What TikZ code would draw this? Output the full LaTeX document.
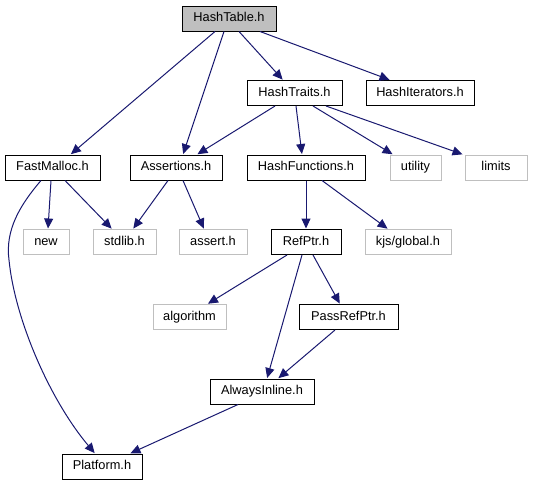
\documentclass[tikz,border=0pt]{standalone}
\usepackage{fontspec}
\setmainfont{Liberation Sans}
\usetikzlibrary{arrows.meta}
\definecolor{edgeblue}{HTML}{191970}
\definecolor{lightgrey}{HTML}{BFBFBF}
\tikzset{
  box/.style={draw=black, line width=1pt, fill=white, minimum height=25pt, inner sep=0pt, text height=9.2pt, text depth=2.6pt, font=\fontsize{12.8}{14}\selectfont, text=black},
  gbox/.style={box, draw=lightgrey},
  rootbox/.style={box, fill=lightgrey},
  edge/.style={draw=edgeblue, line width=1pt, -{Triangle[length=10pt,width=9pt]}, shorten >=0.5pt}
}
\begin{document}
\begin{tikzpicture}[x=1pt,y=-1pt]
\useasboundingbox (0,0) rectangle (534,485);
% nodes
\node[rootbox, minimum width=94pt] (ht) at (229,18.5) {HashTable.h};
\node[box, minimum width=95pt] (tr) at (294.5,93) {HashTraits.h};
\node[box, minimum width=108pt] (it) at (420,93) {HashIterators.h};
\node[box, minimum width=95pt] (fm) at (52.5,167.5) {FastMalloc.h};
\node[box, minimum width=92pt] (as) at (176,167.5) {Assertions.h};
\node[box, minimum width=118pt] (hf) at (306,167.5) {HashFunctions.h};
\node[gbox, minimum width=51pt] (ut) at (415.5,167.5) {utility};
\node[gbox, minimum width=62pt] (li) at (496,167.5) {limits};
\node[gbox, minimum width=46pt] (nw) at (46,242) {new};
\node[gbox, minimum width=63pt] (sl) at (124.5,242) {stdlib.h};
\node[gbox, minimum width=68pt] (ast) at (213,242) {assert.h};
\node[box, minimum width=70pt] (rp) at (306,242) {RefPtr.h};
\node[gbox, minimum width=86pt] (kg) at (408,242) {kjs/global.h};
\node[gbox, minimum width=73pt] (al) at (189.5,317) {algorithm};
\node[box, minimum width=99pt] (prp) at (348.5,317) {PassRefPtr.h};
\node[box, minimum width=104pt] (ai) at (262,391.5) {AlwaysInline.h};
\node[box, minimum width=80pt] (pf) at (102,466.5) {Platform.h};
% edges
\draw[edge] ([xshift=-14pt]ht.south) -- ([xshift=18pt]fm.north);
\draw[edge] ([xshift=-5pt]ht.south) -- ([xshift=7pt]as.north);
\draw[edge] ([xshift=10pt]ht.south) -- ([xshift=-11.5pt]tr.north);
\draw[edge] ([xshift=31pt]ht.south) -- ([xshift=-30pt]it.north);
\draw[edge] ([xshift=-19.5pt]tr.south) -- ([xshift=21pt]as.north);
\draw[edge] ([xshift=1.5pt]tr.south) -- ([xshift=-4pt]hf.north);
\draw[edge] ([xshift=18.5pt]tr.south) -- ([xshift=-22.5pt]ut.north);
\draw[edge] ([xshift=31.5pt]tr.south) -- ([xshift=-33pt]li.north);
\draw[edge] ([xshift=-1.5pt]fm.south) -- ([xshift=2pt]nw.north);
\draw[edge] ([xshift=12.5pt]fm.south) -- ([xshift=-12.5pt]sl.north);
\draw[edge] ([xshift=-11.5pt]fm.south) .. controls (20,205) and (5,230) .. (9,260) .. controls (15,320) and (50,400) .. ([xshift=-7pt]pf.north);
\draw[edge] ([xshift=-8pt]as.south) -- ([xshift=8.5pt]sl.north);
\draw[edge] ([xshift=7pt]as.south) -- ([xshift=-9pt]ast.north);
\draw[edge] (hf.south) -- (rp.north);
\draw[edge] ([xshift=16pt]hf.south) -- ([xshift=-20pt]kg.north);
\draw[edge] ([xshift=-19pt]rp.south) -- ([xshift=18pt]al.north);
\draw[edge] ([xshift=-4pt]rp.south) -- ([xshift=5pt]ai.north);
\draw[edge] ([xshift=7pt]rp.south) -- ([xshift=-8.5pt]prp.north);
\draw[edge] ([xshift=-13.5pt]prp.south) -- ([xshift=16pt]ai.north);
\draw[edge] ([xshift=-24pt]ai.south) -- ([xshift=28pt]pf.north);
\end{tikzpicture}
\end{document}
